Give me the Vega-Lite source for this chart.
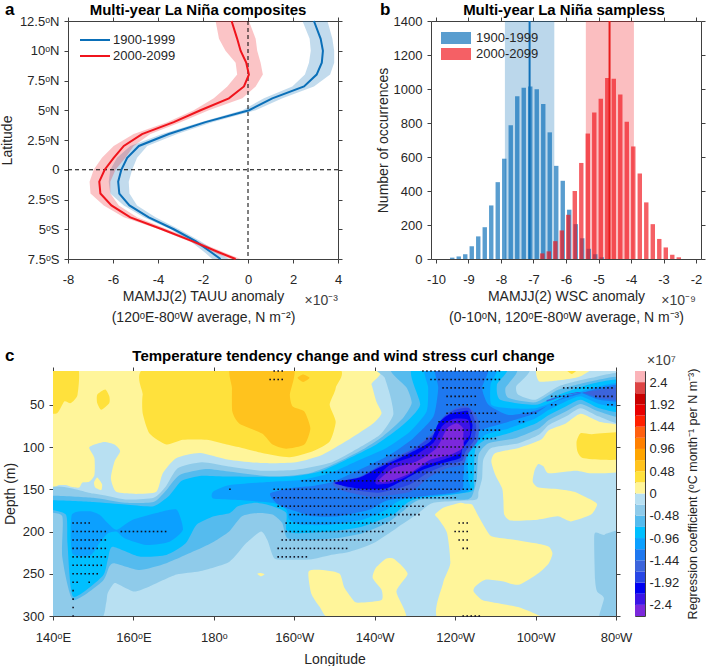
{"$schema":"https://vega.github.io/schema/vega-lite/v6.json","padding":{"left":0,"top":1,"right":0,"bottom":0},"spacing":23,
"config":{"font":"Liberation Sans","view":{"stroke":null},"axis":{"domainColor":"#404040","tickColor":"#404040","tickSize":4,"labelColor":"#262626","titleColor":"#262626","labelFont":"Liberation Sans","titleFont":"Liberation Sans","labelFontSize":13,"titleFontSize":14,"grid":false,"zindex":1,"titleFontWeight":"normal","labelFlush":false,"labelOverlap":false,"titleLineHeight":21},"title":{"font":"Liberation Sans","fontSize":15,"fontWeight":"bold","color":"#000000"},"legend":{"labelFont":"Liberation Sans","labelFontSize":13,"labelColor":"#262626"}},
"datasets":{"lines":[
{"s":"1900-1999","lat":12.5,"m":2.93,"lo":2.42,"hi":3.53},{"s":"1900-1999","lat":11,"m":3.23,"lo":2.74,"hi":3.75},{"s":"1900-1999","lat":10,"m":3.33,"lo":2.79,"hi":3.83},{"s":"1900-1999","lat":9,"m":3.28,"lo":2.71,"hi":3.83},{"s":"1900-1999","lat":8,"m":3.05,"lo":2.53,"hi":3.65},{"s":"1900-1999","lat":7,"m":2.49,"lo":1.97,"hi":2.93},{"s":"1900-1999","lat":6,"m":1.08,"lo":0.71,"hi":1.53},{"s":"1900-1999","lat":5,"m":0.05,"lo":-0.25,"hi":0.34},{"s":"1900-1999","lat":4,"m":-1.89,"lo":-2.11,"hi":-1.59},{"s":"1900-1999","lat":3,"m":-3.52,"lo":-3.82,"hi":-3.15},{"s":"1900-1999","lat":2,"m":-4.85,"lo":-5.23,"hi":-4.48},{"s":"1900-1999","lat":1,"m":-5.37,"lo":-5.82,"hi":-4.93},{"s":"1900-1999","lat":0,"m":-5.63,"lo":-6.12,"hi":-5.15},{"s":"1900-1999","lat":-1,"m":-5.77,"lo":-6.19,"hi":-5.3},{"s":"1900-1999","lat":-2,"m":-5.72,"lo":-6.12,"hi":-5.27},{"s":"1900-1999","lat":-3,"m":-5.27,"lo":-5.52,"hi":-4.93},{"s":"1900-1999","lat":-4,"m":-4.41,"lo":-4.63,"hi":-4.11},{"s":"1900-1999","lat":-5,"m":-3.3,"lo":-3.45,"hi":-3.07},{"s":"1900-1999","lat":-6,"m":-2.33,"lo":-2.55,"hi":-2.11},{"s":"1900-1999","lat":-7,"m":-1.59,"lo":-1.89,"hi":-1.29},{"s":"1900-1999","lat":-7.5,"m":-1.22,"lo":-1.59,"hi":-0.85},
{"s":"2000-2099","lat":12.5,"m":-0.73,"lo":-1.44,"hi":0.04},{"s":"2000-2099","lat":11,"m":-0.48,"lo":-1.29,"hi":0.34},{"s":"2000-2099","lat":10,"m":-0.33,"lo":-1,"hi":0.41},{"s":"2000-2099","lat":9,"m":-0.08,"lo":-0.55,"hi":0.56},{"s":"2000-2099","lat":8,"m":0.04,"lo":-0.48,"hi":0.66},{"s":"2000-2099","lat":7,"m":-0.18,"lo":-0.92,"hi":0.34},{"s":"2000-2099","lat":6,"m":-0.85,"lo":-1.52,"hi":-0.25},{"s":"2000-2099","lat":5,"m":-2.11,"lo":-2.41,"hi":-1.74},{"s":"2000-2099","lat":4,"m":-3.3,"lo":-3.59,"hi":-3},{"s":"2000-2099","lat":3,"m":-4.71,"lo":-5.08,"hi":-4.34},{"s":"2000-2099","lat":2,"m":-5.52,"lo":-5.97,"hi":-5.08},{"s":"2000-2099","lat":1,"m":-5.97,"lo":-6.49,"hi":-5.45},{"s":"2000-2099","lat":0,"m":-6.37,"lo":-6.86,"hi":-5.89},{"s":"2000-2099","lat":-1,"m":-6.61,"lo":-7.04,"hi":-6.12},{"s":"2000-2099","lat":-2,"m":-6.56,"lo":-7,"hi":-6.12},{"s":"2000-2099","lat":-3,"m":-6.07,"lo":-6.41,"hi":-5.74},{"s":"2000-2099","lat":-4,"m":-5.23,"lo":-5.52,"hi":-4.93},{"s":"2000-2099","lat":-5,"m":-3.82,"lo":-3.96,"hi":-3.59},{"s":"2000-2099","lat":-6,"m":-2.48,"lo":-2.63,"hi":-2.26},{"s":"2000-2099","lat":-7,"m":-1.22,"lo":-1.44,"hi":-1},{"s":"2000-2099","lat":-7.5,"m":-0.55,"lo":-0.77,"hi":-0.33}],
"bars":[{"s":"1900-1999","x":-9.5,"n":8},{"s":"1900-1999","x":-9.3,"n":15},{"s":"1900-1999","x":-9.1,"n":28},{"s":"1900-1999","x":-8.9,"n":75},{"s":"1900-1999","x":-8.7,"n":133},{"s":"1900-1999","x":-8.5,"n":187},{"s":"1900-1999","x":-8.3,"n":315},{"s":"1900-1999","x":-8.1,"n":452},{"s":"1900-1999","x":-7.9,"n":590},{"s":"1900-1999","x":-7.7,"n":787},{"s":"1900-1999","x":-7.5,"n":958},{"s":"1900-1999","x":-7.3,"n":1008},{"s":"1900-1999","x":-7.1,"n":1015},{"s":"1900-1999","x":-6.9,"n":998},{"s":"1900-1999","x":-6.7,"n":912},{"s":"1900-1999","x":-6.5,"n":745},{"s":"1900-1999","x":-6.3,"n":548},{"s":"1900-1999","x":-6.1,"n":460},{"s":"1900-1999","x":-5.9,"n":290},{"s":"1900-1999","x":-5.7,"n":205},{"s":"1900-1999","x":-5.5,"n":122},{"s":"1900-1999","x":-5.3,"n":60},{"s":"1900-1999","x":-5.1,"n":28},{"s":"1900-1999","x":-4.9,"n":10},
{"s":"2000-2099","x":-6.73,"n":33},{"s":"2000-2099","x":-6.53,"n":45},{"s":"2000-2099","x":-6.33,"n":105},{"s":"2000-2099","x":-6.13,"n":168},{"s":"2000-2099","x":-5.93,"n":260},{"s":"2000-2099","x":-5.73,"n":400},{"s":"2000-2099","x":-5.53,"n":565},{"s":"2000-2099","x":-5.33,"n":738},{"s":"2000-2099","x":-5.13,"n":862},{"s":"2000-2099","x":-4.93,"n":942},{"s":"2000-2099","x":-4.73,"n":1065},{"s":"2000-2099","x":-4.53,"n":1060},{"s":"2000-2099","x":-4.33,"n":967},{"s":"2000-2099","x":-4.13,"n":808},{"s":"2000-2099","x":-3.93,"n":662},{"s":"2000-2099","x":-3.73,"n":503},{"s":"2000-2099","x":-3.53,"n":333},{"s":"2000-2099","x":-3.33,"n":205},{"s":"2000-2099","x":-3.13,"n":118},{"s":"2000-2099","x":-2.93,"n":68},{"s":"2000-2099","x":-2.73,"n":25},{"s":"2000-2099","x":-2.53,"n":10}],
"means":[{"s":"1900-1999","m":-7.12,"lo":-7.88,"hi":-6.36},{"s":"2000-2099","m":-4.66,"lo":-5.39,"hi":-3.91}],
"levels":[{"p":1,"v":0.12},{"p":2,"v":0.12},{"p":3,"v":0.12},{"p":4,"v":0.12},{"p":5,"v":0.12},{"p":6,"v":0.12},{"p":7,"v":0.12},{"p":8,"v":0.36},{"p":9,"v":0.36},{"p":10,"v":0.36},{"p":11,"v":0.36},{"p":12,"v":0.36},{"p":13,"v":0.6},{"p":14,"v":0.6},{"p":15,"v":-0.36},{"p":16,"v":-0.36},{"p":17,"v":-0.6},{"p":18,"v":-0.84},{"p":19,"v":-1.08},{"p":20,"v":-1.08},{"p":21,"v":-1.32},{"p":22,"v":-1.56},{"p":23,"v":-1.56},{"p":24,"v":-1.8},{"p":25,"v":-2.04},{"p":26,"v":-2.28},{"p":27,"v":-2.52}],
"polys":[
{"p":1,"x":138,"y":5},{"p":1,"x":217.5,"y":5},{"p":1,"x":219.2,"y":26},{"p":1,"x":220.4,"y":46},{"p":1,"x":221.7,"y":60},{"p":1,"x":219.6,"y":72},{"p":1,"x":212.9,"y":93},{"p":1,"x":207,"y":109},{"p":1,"x":200.4,"y":118},{"p":1,"x":192,"y":119},{"p":1,"x":183.7,"y":115},{"p":1,"x":176.5,"y":107},{"p":1,"x":170.7,"y":113},{"p":1,"x":167.3,"y":131},{"p":1,"x":165.7,"y":153},{"p":1,"x":160.7,"y":155.5},{"p":1,"x":155.7,"y":153},{"p":1,"x":154.4,"y":137},{"p":1,"x":155.3,"y":117},{"p":1,"x":156.7,"y":105},{"p":1,"x":155.3,"y":97},{"p":1,"x":152.8,"y":94},{"p":1,"x":150.3,"y":97},{"p":1,"x":149,"y":101},{"p":1,"x":150.3,"y":113},{"p":1,"x":150.3,"y":133},{"p":1,"x":149,"y":141},{"p":1,"x":147.3,"y":142},{"p":1,"x":146.5,"y":148},{"p":1,"x":144.4,"y":147},{"p":1,"x":143.2,"y":145},{"p":1,"x":141.5,"y":145},{"p":1,"x":138,"y":144},
{"p":2,"x":151,"y":136},{"p":2,"x":152.2,"y":144},{"p":2,"x":152,"y":151},{"p":2,"x":150.5,"y":148},{"p":2,"x":150.2,"y":142},
{"p":3,"x":260.8,"y":5},{"p":3,"x":274,"y":5},{"p":3,"x":271.7,"y":15},{"p":3,"x":269,"y":19},{"p":3,"x":265,"y":21.5},{"p":3,"x":260.8,"y":22},
{"p":4,"x":282,"y":77.7},{"p":4,"x":275.8,"y":70},{"p":4,"x":271.2,"y":60.7},{"p":4,"x":267.5,"y":72},{"p":4,"x":263.3,"y":80},{"p":4,"x":261.3,"y":91.5},{"p":4,"x":255.8,"y":101},{"p":4,"x":250,"y":107},{"p":4,"x":249,"y":117},{"p":4,"x":250,"y":133},{"p":4,"x":251.7,"y":149},{"p":4,"x":252,"y":163},{"p":4,"x":252.2,"y":180},{"p":4,"x":253.8,"y":187},{"p":4,"x":260.5,"y":186},{"p":4,"x":265.5,"y":182},{"p":4,"x":268.8,"y":188},{"p":4,"x":273.8,"y":180},{"p":4,"x":275.3,"y":168},{"p":4,"x":273.8,"y":162.5},{"p":4,"x":269.6,"y":153},{"p":4,"x":265.8,"y":150},{"p":4,"x":260.8,"y":148},{"p":4,"x":259.3,"y":141},{"p":4,"x":259.8,"y":127},{"p":4,"x":260.7,"y":120},{"p":4,"x":262,"y":123},{"p":4,"x":263.3,"y":131},{"p":4,"x":270,"y":128},{"p":4,"x":274,"y":131},{"p":4,"x":282,"y":127},
{"p":5,"x":235,"y":180},{"p":5,"x":237,"y":172},{"p":5,"x":241.3,"y":166},{"p":5,"x":242.5,"y":167},{"p":5,"x":244.2,"y":168},{"p":5,"x":245.8,"y":182},{"p":5,"x":247.5,"y":196},{"p":5,"x":249.2,"y":206},{"p":5,"x":255,"y":210},{"p":5,"x":260,"y":214},{"p":5,"x":263.3,"y":218},{"p":5,"x":264.2,"y":226},{"p":5,"x":263.3,"y":237.5},{"p":5,"x":260.8,"y":249},{"p":5,"x":255.8,"y":263},{"p":5,"x":251.7,"y":259},{"p":5,"x":247.5,"y":257},{"p":5,"x":245,"y":265},{"p":5,"x":244.6,"y":271},{"p":5,"x":246.7,"y":281},{"p":5,"x":250.8,"y":285},{"p":5,"x":256.7,"y":291},{"p":5,"x":261.7,"y":305},{"p":5,"x":236.2,"y":305},{"p":5,"x":237,"y":261},{"p":5,"x":238.8,"y":237.5},{"p":5,"x":238,"y":202},{"p":5,"x":236,"y":186},
{"p":6,"x":203.6,"y":247},{"p":6,"x":208,"y":246},{"p":6,"x":211.3,"y":250},{"p":6,"x":212.5,"y":267},{"p":6,"x":215,"y":283},{"p":6,"x":217,"y":284},{"p":6,"x":221.7,"y":281},{"p":6,"x":221.7,"y":269},{"p":6,"x":219.5,"y":255},{"p":6,"x":220.3,"y":243},{"p":6,"x":222.9,"y":232},{"p":6,"x":225,"y":233},{"p":6,"x":228.2,"y":250},{"p":6,"x":225.4,"y":271},{"p":6,"x":227.5,"y":305},{"p":6,"x":209.6,"y":305},{"p":6,"x":206.3,"y":289},{"p":6,"x":204.2,"y":273},
{"p":7,"x":190.8,"y":250},{"p":7,"x":191.7,"y":249},{"p":7,"x":192.6,"y":250.5},{"p":7,"x":191.7,"y":253},
{"p":8,"x":267,"y":5},{"p":8,"x":271,"y":5},{"p":8,"x":269,"y":13.5},
{"p":9,"x":282,"y":83.6},{"p":9,"x":274,"y":84.8},{"p":9,"x":271.2,"y":83.6},{"p":9,"x":270.2,"y":93.5},{"p":9,"x":270.4,"y":105},{"p":9,"x":271.7,"y":113},{"p":9,"x":276.7,"y":115},{"p":9,"x":282,"y":113},
{"p":10,"x":138,"y":5},{"p":10,"x":146.1,"y":5},{"p":10,"x":146.1,"y":38},{"p":10,"x":144.4,"y":48},{"p":10,"x":142.8,"y":46},{"p":10,"x":141,"y":60},{"p":10,"x":138,"y":56},
{"p":11,"x":153,"y":32},{"p":11,"x":154,"y":40},{"p":11,"x":154,"y":48},{"p":11,"x":152,"y":56},{"p":11,"x":151,"y":48},{"p":11,"x":151,"y":38},
{"p":12,"x":164,"y":5},{"p":12,"x":162.3,"y":38},{"p":12,"x":162.3,"y":60},{"p":12,"x":164,"y":84},{"p":12,"x":168.2,"y":97},{"p":12,"x":172.3,"y":91.5},{"p":12,"x":178.2,"y":91.5},{"p":12,"x":183.2,"y":97},{"p":12,"x":187,"y":101},{"p":12,"x":192,"y":107},{"p":12,"x":198.8,"y":112},{"p":12,"x":204.6,"y":105},{"p":12,"x":208.8,"y":93.5},{"p":12,"x":210.3,"y":70},{"p":12,"x":208.8,"y":50},{"p":12,"x":210.3,"y":30},{"p":12,"x":209.6,"y":5},
{"p":13,"x":184.5,"y":5},{"p":13,"x":184.5,"y":30},{"p":13,"x":184.6,"y":58},{"p":13,"x":186.3,"y":72},{"p":13,"x":192,"y":84},{"p":13,"x":194.6,"y":97},{"p":13,"x":198,"y":102},{"p":13,"x":202.5,"y":97},{"p":13,"x":204,"y":78},{"p":13,"x":202.5,"y":58},{"p":13,"x":199.6,"y":52},{"p":13,"x":198.9,"y":38},{"p":13,"x":199.6,"y":5},
{"p":14,"x":202.2,"y":14},{"p":14,"x":203.8,"y":18},{"p":14,"x":202.2,"y":23},{"p":14,"x":200.8,"y":18},
{"p":15,"x":138,"y":153},{"p":15,"x":150,"y":155},{"p":15,"x":158,"y":162},{"p":15,"x":165,"y":160},{"p":15,"x":168,"y":147},{"p":15,"x":171,"y":125},{"p":15,"x":177,"y":118},{"p":15,"x":183.7,"y":123},{"p":15,"x":192,"y":128},{"p":15,"x":200.4,"y":127},{"p":15,"x":208.8,"y":119},{"p":15,"x":214.6,"y":105},{"p":15,"x":221.3,"y":85.6},{"p":15,"x":224.6,"y":62},{"p":15,"x":223.8,"y":38},{"p":15,"x":222.5,"y":18},{"p":15,"x":221.7,"y":5},{"p":15,"x":257.5,"y":5},{"p":15,"x":255.2,"y":28},{"p":15,"x":255.7,"y":38},{"p":15,"x":260,"y":44},{"p":15,"x":265.8,"y":28},{"p":15,"x":274,"y":18},{"p":15,"x":282,"y":14},{"p":15,"x":282,"y":71.7},{"p":15,"x":275.8,"y":64},{"p":15,"x":271.2,"y":54},{"p":15,"x":267.5,"y":64},{"p":15,"x":263.3,"y":74},{"p":15,"x":260.8,"y":85.6},{"p":15,"x":255.8,"y":95.5},{"p":15,"x":249,"y":101},{"p":15,"x":247,"y":115},{"p":15,"x":246.7,"y":137},{"p":15,"x":245.8,"y":153},{"p":15,"x":245,"y":162.5},{"p":15,"x":234.6,"y":166},{"p":15,"x":230.4,"y":180},{"p":15,"x":225.4,"y":196},{"p":15,"x":219.6,"y":214},{"p":15,"x":213.8,"y":224},{"p":15,"x":208.8,"y":228},{"p":15,"x":203.8,"y":233},{"p":15,"x":195.8,"y":233},{"p":15,"x":194.6,"y":228},{"p":15,"x":193.3,"y":210},{"p":15,"x":191.7,"y":200},{"p":15,"x":188,"y":214},{"p":15,"x":183.8,"y":236},{"p":15,"x":176.5,"y":247},{"p":15,"x":170.7,"y":251},{"p":15,"x":164,"y":265},{"p":15,"x":160.3,"y":271},{"p":15,"x":157.3,"y":265},{"p":15,"x":155.3,"y":261},{"p":15,"x":153.6,"y":273},{"p":15,"x":153.2,"y":285},{"p":15,"x":151.5,"y":305},{"p":15,"x":138,"y":305},
{"p":16,"x":274.6,"y":204},{"p":16,"x":276,"y":202.5},{"p":16,"x":277,"y":204},{"p":16,"x":278,"y":202},{"p":16,"x":282,"y":204},{"p":16,"x":282,"y":305},{"p":16,"x":275.8,"y":305},{"p":16,"x":277,"y":279},{"p":16,"x":275.3,"y":271},{"p":16,"x":274.8,"y":257},
{"p":17,"x":138,"y":158},{"p":17,"x":150,"y":160},{"p":17,"x":158,"y":166},{"p":17,"x":165,"y":165},{"p":17,"x":168,"y":152},{"p":17,"x":171.5,"y":133},{"p":17,"x":178,"y":126},{"p":17,"x":183.7,"y":129},{"p":17,"x":194.6,"y":135},{"p":17,"x":203.8,"y":131},{"p":17,"x":210.4,"y":119},{"p":17,"x":217,"y":103},{"p":17,"x":222,"y":87.5},{"p":17,"x":227,"y":66},{"p":17,"x":229.2,"y":48},{"p":17,"x":228,"y":30},{"p":17,"x":224.6,"y":5},{"p":17,"x":254.6,"y":5},{"p":17,"x":252.5,"y":30},{"p":17,"x":253.3,"y":42},{"p":17,"x":260,"y":47},{"p":17,"x":265.8,"y":32},{"p":17,"x":274,"y":22},{"p":17,"x":282,"y":18},{"p":17,"x":282,"y":64},{"p":17,"x":275.8,"y":58},{"p":17,"x":271.2,"y":49},{"p":17,"x":267.5,"y":58},{"p":17,"x":263.3,"y":68},{"p":17,"x":260.8,"y":78},{"p":17,"x":255,"y":89.5},{"p":17,"x":248.3,"y":95.5},{"p":17,"x":245.8,"y":109},{"p":17,"x":245.4,"y":137},{"p":17,"x":244.6,"y":153},{"p":17,"x":243,"y":162},{"p":17,"x":231.3,"y":162.5},{"p":17,"x":227,"y":176},{"p":17,"x":223,"y":190},{"p":17,"x":217,"y":202},{"p":17,"x":210.4,"y":208},{"p":17,"x":203.8,"y":210},{"p":17,"x":198.3,"y":208},{"p":17,"x":197,"y":190},{"p":17,"x":194.6,"y":180},{"p":17,"x":191,"y":178},{"p":17,"x":187,"y":182},{"p":17,"x":183.8,"y":200},{"p":17,"x":180,"y":212},{"p":17,"x":175.7,"y":222},{"p":17,"x":168.2,"y":237.5},{"p":17,"x":161.5,"y":245.5},{"p":17,"x":155.3,"y":237.5},{"p":17,"x":154,"y":241.5},{"p":17,"x":152.3,"y":259},{"p":17,"x":145,"y":281},{"p":17,"x":142.3,"y":230},{"p":17,"x":142.3,"y":182},{"p":17,"x":138,"y":176},
{"p":18,"x":138,"y":163},{"p":18,"x":150,"y":165},{"p":18,"x":158,"y":168},{"p":18,"x":165,"y":170},{"p":18,"x":169,"y":157},{"p":18,"x":172,"y":140},{"p":18,"x":177,"y":134},{"p":18,"x":183.7,"y":135},{"p":18,"x":198.8,"y":135},{"p":18,"x":206.3,"y":129},{"p":18,"x":212.9,"y":115},{"p":18,"x":220.4,"y":97},{"p":18,"x":227,"y":74},{"p":18,"x":231.3,"y":50},{"p":18,"x":229.6,"y":5},{"p":18,"x":252.5,"y":5},{"p":18,"x":250.4,"y":26},{"p":18,"x":251.2,"y":44},{"p":18,"x":260,"y":50},{"p":18,"x":265.8,"y":38},{"p":18,"x":274,"y":25},{"p":18,"x":282,"y":21},{"p":18,"x":282,"y":58},{"p":18,"x":275.8,"y":54},{"p":18,"x":271.2,"y":44},{"p":18,"x":267.5,"y":52},{"p":18,"x":263.3,"y":62},{"p":18,"x":260,"y":72},{"p":18,"x":253.3,"y":83.6},{"p":18,"x":247.5,"y":91.5},{"p":18,"x":245,"y":103},{"p":18,"x":244.6,"y":137},{"p":18,"x":243.8,"y":153},{"p":18,"x":229.6,"y":162.5},{"p":18,"x":224.6,"y":180},{"p":18,"x":217,"y":194},{"p":18,"x":208.8,"y":200},{"p":18,"x":200.4,"y":202},{"p":18,"x":198,"y":198},{"p":18,"x":198,"y":178},{"p":18,"x":194.6,"y":170},{"p":18,"x":190.4,"y":166},{"p":18,"x":186,"y":170},{"p":18,"x":184,"y":178},{"p":18,"x":180,"y":182},{"p":18,"x":175.7,"y":192},{"p":18,"x":173,"y":214},{"p":18,"x":168.2,"y":227.7},{"p":18,"x":161.5,"y":229.6},{"p":18,"x":154.8,"y":218},{"p":18,"x":153.6,"y":233.6},{"p":18,"x":152.3,"y":253},{"p":18,"x":145,"y":277},{"p":18,"x":143.6,"y":214},{"p":18,"x":143.2,"y":180},{"p":18,"x":138,"y":172},
{"p":19,"x":144.7,"y":180},{"p":19,"x":144.8,"y":226},{"p":19,"x":149.4,"y":228},{"p":19,"x":151.5,"y":214},{"p":19,"x":153.6,"y":202},{"p":19,"x":155.8,"y":200},{"p":19,"x":157.8,"y":208},{"p":19,"x":163.2,"y":216},{"p":19,"x":169,"y":212},{"p":19,"x":172.3,"y":198},{"p":19,"x":170.7,"y":174},{"p":19,"x":165.7,"y":178},{"p":19,"x":159.8,"y":186},{"p":19,"x":155.8,"y":198},{"p":19,"x":153.6,"y":190},{"p":19,"x":151.5,"y":180},{"p":19,"x":149,"y":176},
{"p":20,"x":179.8,"y":153},{"p":20,"x":184,"y":145},{"p":20,"x":194.6,"y":141},{"p":20,"x":201.7,"y":139},{"p":20,"x":208.8,"y":131},{"p":20,"x":216.3,"y":115},{"p":20,"x":222.9,"y":101},{"p":20,"x":228.8,"y":81.6},{"p":20,"x":232.9,"y":58},{"p":20,"x":233.3,"y":30},{"p":20,"x":233,"y":5},{"p":20,"x":250,"y":5},{"p":20,"x":248.8,"y":26},{"p":20,"x":249,"y":50},{"p":20,"x":253.3,"y":54},{"p":20,"x":260,"y":54},{"p":20,"x":265.8,"y":44},{"p":20,"x":274,"y":30},{"p":20,"x":282,"y":24},{"p":20,"x":282,"y":52},{"p":20,"x":275.8,"y":49},{"p":20,"x":271.2,"y":40},{"p":20,"x":267.5,"y":46},{"p":20,"x":263.3,"y":56},{"p":20,"x":260,"y":66},{"p":20,"x":253.3,"y":78},{"p":20,"x":247.5,"y":85.6},{"p":20,"x":243.3,"y":109},{"p":20,"x":243.3,"y":137},{"p":20,"x":242.9,"y":153},{"p":20,"x":227,"y":162.5},{"p":20,"x":223,"y":174},{"p":20,"x":217,"y":186},{"p":20,"x":208.8,"y":192},{"p":20,"x":202,"y":192},{"p":20,"x":198.8,"y":186},{"p":20,"x":198,"y":174},{"p":20,"x":194.6,"y":166},{"p":20,"x":185,"y":162.5},{"p":20,"x":179.8,"y":161},
{"p":21,"x":194,"y":155},{"p":21,"x":200,"y":148},{"p":21,"x":204.6,"y":146},{"p":21,"x":209.6,"y":141},{"p":21,"x":217,"y":125},{"p":21,"x":223.8,"y":109},{"p":21,"x":229.6,"y":89.5},{"p":21,"x":234.6,"y":64},{"p":21,"x":235.8,"y":30},{"p":21,"x":235.4,"y":5},{"p":21,"x":248,"y":5},{"p":21,"x":246.7,"y":30},{"p":21,"x":248.3,"y":50},{"p":21,"x":253.3,"y":62},{"p":21,"x":260,"y":57},{"p":21,"x":265,"y":46},{"p":21,"x":269,"y":40},{"p":21,"x":275.8,"y":30},{"p":21,"x":282,"y":26},{"p":21,"x":282,"y":46},{"p":21,"x":275.8,"y":44},{"p":21,"x":271.2,"y":36},{"p":21,"x":267.5,"y":40},{"p":21,"x":263.3,"y":50},{"p":21,"x":260,"y":60},{"p":21,"x":253.3,"y":70},{"p":21,"x":247.5,"y":78},{"p":21,"x":244.2,"y":85.6},{"p":21,"x":242.5,"y":109},{"p":21,"x":242,"y":137},{"p":21,"x":240.8,"y":153},{"p":21,"x":223.8,"y":162.5},{"p":21,"x":218.8,"y":174},{"p":21,"x":211,"y":182},{"p":21,"x":204.6,"y":182},{"p":21,"x":200.4,"y":176},{"p":21,"x":196,"y":168},
{"p":22,"x":210,"y":141},{"p":22,"x":216.3,"y":135},{"p":22,"x":222.9,"y":117},{"p":22,"x":230.4,"y":99.4},{"p":22,"x":235.4,"y":77.7},{"p":22,"x":237.9,"y":60},{"p":22,"x":241.3,"y":52},{"p":22,"x":243,"y":52},{"p":22,"x":245,"y":60},{"p":22,"x":246,"y":74},{"p":22,"x":245.5,"y":93.5},{"p":22,"x":243,"y":109},{"p":22,"x":242,"y":121},{"p":22,"x":238,"y":125},{"p":22,"x":233.8,"y":135},{"p":22,"x":228.8,"y":153},{"p":22,"x":219.6,"y":159},{"p":22,"x":212.9,"y":153},{"p":22,"x":210,"y":147},
{"p":23,"x":263,"y":46},{"p":23,"x":268,"y":38},{"p":23,"x":275,"y":33},{"p":23,"x":282,"y":29},{"p":23,"x":282,"y":44},{"p":23,"x":276,"y":42},{"p":23,"x":271,"y":35},{"p":23,"x":267.5,"y":38},{"p":23,"x":263,"y":44},
{"p":24,"x":211,"y":141.5},{"p":24,"x":216.3,"y":135.5},{"p":24,"x":221.5,"y":122},{"p":24,"x":229.5,"y":103},{"p":24,"x":234.6,"y":85},{"p":24,"x":236.8,"y":66},{"p":24,"x":240,"y":56},{"p":24,"x":243.5,"y":54},{"p":24,"x":245.2,"y":74},{"p":24,"x":244.7,"y":92},{"p":24,"x":242.5,"y":106},{"p":24,"x":241.8,"y":116},{"p":24,"x":237.5,"y":122},{"p":24,"x":233,"y":131},{"p":24,"x":228.4,"y":145},{"p":24,"x":221,"y":154},{"p":24,"x":214,"y":150},
{"p":25,"x":210,"y":142},{"p":25,"x":216.3,"y":136},{"p":25,"x":220.4,"y":126},{"p":25,"x":228.8,"y":107},{"p":25,"x":233.8,"y":93.5},{"p":25,"x":235.8,"y":72},{"p":25,"x":238.8,"y":60.7},{"p":25,"x":243,"y":57},{"p":25,"x":243.3,"y":60},{"p":25,"x":244.3,"y":73.7},{"p":25,"x":243.7,"y":89.5},{"p":25,"x":241.7,"y":103},{"p":25,"x":241.3,"y":113},{"p":25,"x":237,"y":119},{"p":25,"x":232,"y":127},{"p":25,"x":228,"y":137},{"p":25,"x":222.9,"y":149},{"p":25,"x":217,"y":149.6},{"p":25,"x":212,"y":145.7},
{"p":26,"x":220.4,"y":137},{"p":26,"x":223.8,"y":121},{"p":26,"x":229.6,"y":111},{"p":26,"x":234.6,"y":95},{"p":26,"x":236.7,"y":75.7},{"p":26,"x":239.6,"y":66.6},{"p":26,"x":243.3,"y":68},{"p":26,"x":243.7,"y":85.6},{"p":26,"x":241.7,"y":97},{"p":26,"x":241.3,"y":107},{"p":26,"x":237,"y":115},{"p":26,"x":232,"y":123},{"p":26,"x":228,"y":135},{"p":26,"x":224,"y":143},{"p":26,"x":220.4,"y":144},
{"p":27,"x":221,"y":139},{"p":27,"x":224.6,"y":125},{"p":27,"x":230.4,"y":117},{"p":27,"x":235.4,"y":101},{"p":27,"x":238,"y":77.7},{"p":27,"x":240.4,"y":71.7},{"p":27,"x":242,"y":77.7},{"p":27,"x":242,"y":89.5},{"p":27,"x":242,"y":101},{"p":27,"x":238.8,"y":109},{"p":27,"x":233.8,"y":115},{"p":27,"x":228.8,"y":131},{"p":27,"x":224.6,"y":139},{"p":27,"x":222,"y":142}],
"dots":[
{"x":195,"y":10},{"x":196,"y":10},{"x":197,"y":10},{"x":232,"y":10},{"x":233,"y":10},{"x":234,"y":10},{"x":235,"y":10},{"x":236,"y":10},{"x":237,"y":10},{"x":238,"y":10},{"x":239,"y":10},{"x":240,"y":10},{"x":241,"y":10},{"x":242,"y":10},{"x":243,"y":10},{"x":244,"y":10},{"x":245,"y":10},{"x":246,"y":10},{"x":247,"y":10},{"x":248,"y":10},{"x":249,"y":10},{"x":250,"y":10},{"x":251,"y":10},
{"x":194,"y":20},{"x":195,"y":20},{"x":196,"y":20},{"x":197,"y":20},{"x":234,"y":20},{"x":235,"y":20},{"x":236,"y":20},{"x":237,"y":20},{"x":238,"y":20},{"x":239,"y":20},{"x":240,"y":20},{"x":241,"y":20},{"x":242,"y":20},{"x":243,"y":20},{"x":244,"y":20},{"x":245,"y":20},{"x":246,"y":20},{"x":247,"y":20},{"x":248,"y":20},{"x":249,"y":20},{"x":250,"y":20},{"x":251,"y":20},
{"x":237,"y":30},{"x":238,"y":30},{"x":239,"y":30},{"x":240,"y":30},{"x":241,"y":30},{"x":242,"y":30},{"x":243,"y":30},{"x":244,"y":30},{"x":245,"y":30},{"x":246,"y":30},{"x":247,"y":30},{"x":267,"y":30},{"x":268,"y":30},{"x":269,"y":30},{"x":270,"y":30},{"x":271,"y":30},{"x":272,"y":30},{"x":273,"y":30},{"x":274,"y":30},{"x":275,"y":30},{"x":276,"y":30},{"x":277,"y":30},{"x":278,"y":30},{"x":279,"y":30},
{"x":238,"y":40},{"x":239,"y":40},{"x":240,"y":40},{"x":241,"y":40},{"x":242,"y":40},{"x":243,"y":40},{"x":244,"y":40},{"x":245,"y":40},{"x":264,"y":40},{"x":265,"y":40},{"x":266,"y":40},{"x":267,"y":40},{"x":268,"y":40},{"x":275,"y":40},{"x":276,"y":40},{"x":277,"y":40},{"x":278,"y":40},{"x":279,"y":40},
{"x":238,"y":50},{"x":239,"y":50},{"x":240,"y":50},{"x":241,"y":50},{"x":242,"y":50},{"x":243,"y":50},{"x":244,"y":50},{"x":245,"y":50},{"x":264,"y":50},{"x":265,"y":50},{"x":278,"y":50},{"x":279,"y":50},
{"x":238,"y":60},{"x":239,"y":60},{"x":240,"y":60},{"x":241,"y":60},{"x":242,"y":60},{"x":243,"y":60},{"x":244,"y":60},{"x":245,"y":60},{"x":246,"y":60},{"x":247,"y":60},{"x":248,"y":60},{"x":249,"y":60},{"x":250,"y":60},{"x":257,"y":60},{"x":258,"y":60},{"x":259,"y":60},{"x":260,"y":60},
{"x":236,"y":70},{"x":237,"y":70},{"x":238,"y":70},{"x":239,"y":70},{"x":240,"y":70},{"x":241,"y":70},{"x":242,"y":70},{"x":243,"y":70},{"x":244,"y":70},{"x":245,"y":70},{"x":246,"y":70},{"x":247,"y":70},{"x":248,"y":70},{"x":249,"y":70},{"x":250,"y":70},{"x":251,"y":70},{"x":256,"y":70},{"x":257,"y":70},
{"x":234,"y":80},{"x":235,"y":80},{"x":236,"y":80},{"x":237,"y":80},{"x":238,"y":80},{"x":239,"y":80},{"x":240,"y":80},{"x":241,"y":80},{"x":242,"y":80},{"x":243,"y":80},{"x":244,"y":80},{"x":245,"y":80},{"x":246,"y":80},{"x":247,"y":80},{"x":248,"y":80},{"x":249,"y":80},{"x":250,"y":80},{"x":251,"y":80},
{"x":233,"y":90},{"x":234,"y":90},{"x":235,"y":90},{"x":236,"y":90},{"x":237,"y":90},{"x":238,"y":90},{"x":239,"y":90},{"x":240,"y":90},{"x":241,"y":90},{"x":242,"y":90},{"x":243,"y":90},{"x":244,"y":90},{"x":245,"y":90},{"x":246,"y":90},{"x":247,"y":90},{"x":248,"y":90},{"x":249,"y":90},{"x":250,"y":90},
{"x":229,"y":100},{"x":230,"y":100},{"x":231,"y":100},{"x":232,"y":100},{"x":233,"y":100},{"x":234,"y":100},{"x":235,"y":100},{"x":236,"y":100},{"x":237,"y":100},{"x":238,"y":100},{"x":239,"y":100},{"x":240,"y":100},{"x":241,"y":100},{"x":242,"y":100},{"x":243,"y":100},{"x":244,"y":100},{"x":245,"y":100},{"x":246,"y":100},
{"x":223,"y":110},{"x":224,"y":110},{"x":225,"y":110},{"x":226,"y":110},{"x":227,"y":110},{"x":228,"y":110},{"x":229,"y":110},{"x":230,"y":110},{"x":231,"y":110},{"x":232,"y":110},{"x":233,"y":110},{"x":234,"y":110},{"x":235,"y":110},{"x":236,"y":110},{"x":237,"y":110},{"x":238,"y":110},{"x":239,"y":110},{"x":240,"y":110},{"x":241,"y":110},{"x":242,"y":110},{"x":243,"y":110},{"x":244,"y":110},{"x":245,"y":110},
{"x":219,"y":120},{"x":220,"y":120},{"x":221,"y":120},{"x":222,"y":120},{"x":223,"y":120},{"x":224,"y":120},{"x":225,"y":120},{"x":226,"y":120},{"x":227,"y":120},{"x":228,"y":120},{"x":229,"y":120},{"x":230,"y":120},{"x":231,"y":120},{"x":232,"y":120},{"x":233,"y":120},{"x":234,"y":120},{"x":235,"y":120},{"x":236,"y":120},{"x":237,"y":120},{"x":238,"y":120},{"x":239,"y":120},{"x":240,"y":120},{"x":241,"y":120},{"x":242,"y":120},{"x":243,"y":120},{"x":244,"y":120},{"x":245,"y":120},
{"x":207,"y":130},{"x":208,"y":130},{"x":209,"y":130},{"x":210,"y":130},{"x":211,"y":130},{"x":212,"y":130},{"x":213,"y":130},{"x":214,"y":130},{"x":215,"y":130},{"x":216,"y":130},{"x":217,"y":130},{"x":218,"y":130},{"x":219,"y":130},{"x":220,"y":130},{"x":221,"y":130},{"x":222,"y":130},{"x":223,"y":130},{"x":224,"y":130},{"x":225,"y":130},{"x":226,"y":130},{"x":227,"y":130},{"x":228,"y":130},{"x":229,"y":130},{"x":230,"y":130},{"x":231,"y":130},{"x":232,"y":130},{"x":233,"y":130},{"x":234,"y":130},{"x":235,"y":130},{"x":236,"y":130},{"x":237,"y":130},{"x":238,"y":130},{"x":239,"y":130},{"x":240,"y":130},{"x":241,"y":130},{"x":242,"y":130},{"x":243,"y":130},{"x":244,"y":130},{"x":245,"y":130},
{"x":202,"y":140},{"x":203,"y":140},{"x":204,"y":140},{"x":205,"y":140},{"x":206,"y":140},{"x":207,"y":140},{"x":208,"y":140},{"x":209,"y":140},{"x":210,"y":140},{"x":211,"y":140},{"x":212,"y":140},{"x":213,"y":140},{"x":214,"y":140},{"x":215,"y":140},{"x":216,"y":140},{"x":217,"y":140},{"x":218,"y":140},{"x":219,"y":140},{"x":220,"y":140},{"x":221,"y":140},{"x":222,"y":140},{"x":223,"y":140},{"x":224,"y":140},{"x":225,"y":140},{"x":226,"y":140},{"x":227,"y":140},{"x":228,"y":140},{"x":229,"y":140},{"x":230,"y":140},{"x":231,"y":140},{"x":232,"y":140},{"x":233,"y":140},{"x":234,"y":140},{"x":235,"y":140},{"x":236,"y":140},{"x":237,"y":140},{"x":238,"y":140},{"x":239,"y":140},{"x":240,"y":140},{"x":241,"y":140},{"x":242,"y":140},{"x":243,"y":140},{"x":244,"y":140},{"x":245,"y":140},
{"x":184,"y":150},{"x":195,"y":150},{"x":196,"y":150},{"x":197,"y":150},{"x":198,"y":150},{"x":199,"y":150},{"x":200,"y":150},{"x":201,"y":150},{"x":202,"y":150},{"x":203,"y":150},{"x":204,"y":150},{"x":205,"y":150},{"x":206,"y":150},{"x":207,"y":150},{"x":208,"y":150},{"x":209,"y":150},{"x":210,"y":150},{"x":211,"y":150},{"x":212,"y":150},{"x":213,"y":150},{"x":214,"y":150},{"x":215,"y":150},{"x":216,"y":150},{"x":217,"y":150},{"x":218,"y":150},{"x":219,"y":150},{"x":220,"y":150},{"x":221,"y":150},{"x":222,"y":150},{"x":223,"y":150},{"x":224,"y":150},{"x":225,"y":150},{"x":226,"y":150},{"x":227,"y":150},{"x":228,"y":150},{"x":229,"y":150},{"x":230,"y":150},{"x":231,"y":150},{"x":232,"y":150},{"x":233,"y":150},{"x":234,"y":150},{"x":235,"y":150},{"x":236,"y":150},{"x":237,"y":150},{"x":238,"y":150},{"x":239,"y":150},{"x":240,"y":150},{"x":241,"y":150},{"x":242,"y":150},{"x":243,"y":150},{"x":244,"y":150},
{"x":195,"y":160},{"x":196,"y":160},{"x":197,"y":160},{"x":198,"y":160},{"x":199,"y":160},{"x":200,"y":160},{"x":201,"y":160},{"x":202,"y":160},{"x":203,"y":160},{"x":204,"y":160},{"x":205,"y":160},{"x":206,"y":160},{"x":207,"y":160},{"x":208,"y":160},{"x":209,"y":160},{"x":210,"y":160},{"x":211,"y":160},{"x":212,"y":160},{"x":213,"y":160},{"x":214,"y":160},{"x":215,"y":160},{"x":216,"y":160},{"x":217,"y":160},{"x":218,"y":160},{"x":219,"y":160},{"x":220,"y":160},{"x":221,"y":160},{"x":222,"y":160},{"x":223,"y":160},{"x":224,"y":160},{"x":225,"y":160},{"x":226,"y":160},{"x":227,"y":160},{"x":228,"y":160},{"x":229,"y":160},{"x":230,"y":160},{"x":231,"y":160},{"x":232,"y":160},{"x":233,"y":160},{"x":234,"y":160},{"x":235,"y":160},{"x":236,"y":160},{"x":237,"y":160},{"x":238,"y":160},{"x":239,"y":160},{"x":240,"y":160},
{"x":196,"y":170},{"x":197,"y":170},{"x":198,"y":170},{"x":199,"y":170},{"x":200,"y":170},{"x":201,"y":170},{"x":202,"y":170},{"x":203,"y":170},{"x":204,"y":170},{"x":205,"y":170},{"x":206,"y":170},{"x":207,"y":170},{"x":208,"y":170},{"x":209,"y":170},{"x":210,"y":170},{"x":211,"y":170},{"x":212,"y":170},{"x":213,"y":170},{"x":214,"y":170},{"x":215,"y":170},{"x":216,"y":170},{"x":217,"y":170},{"x":218,"y":170},{"x":219,"y":170},{"x":220,"y":170},{"x":221,"y":170},{"x":222,"y":170},{"x":223,"y":170},{"x":224,"y":170},{"x":225,"y":170},{"x":226,"y":170},{"x":227,"y":170},{"x":228,"y":170},{"x":229,"y":170},{"x":230,"y":170},{"x":231,"y":170},{"x":232,"y":170},
{"x":199,"y":180},{"x":200,"y":180},{"x":201,"y":180},{"x":202,"y":180},{"x":203,"y":180},{"x":204,"y":180},{"x":205,"y":180},{"x":206,"y":180},{"x":207,"y":180},{"x":208,"y":180},{"x":209,"y":180},{"x":210,"y":180},{"x":211,"y":180},{"x":212,"y":180},{"x":213,"y":180},{"x":214,"y":180},{"x":215,"y":180},{"x":216,"y":180},{"x":217,"y":180},{"x":218,"y":180},{"x":219,"y":180},{"x":220,"y":180},{"x":221,"y":180},{"x":222,"y":180},{"x":223,"y":180},{"x":224,"y":180},{"x":225,"y":180},{"x":226,"y":180},{"x":227,"y":180},{"x":228,"y":180},{"x":229,"y":180},{"x":230,"y":180},{"x":231,"y":180},
{"x":145,"y":190},{"x":146,"y":190},{"x":147,"y":190},{"x":148,"y":190},{"x":149,"y":190},{"x":198,"y":190},{"x":199,"y":190},{"x":200,"y":190},{"x":201,"y":190},{"x":202,"y":190},{"x":203,"y":190},{"x":204,"y":190},{"x":205,"y":190},{"x":206,"y":190},{"x":207,"y":190},{"x":208,"y":190},{"x":209,"y":190},{"x":210,"y":190},{"x":211,"y":190},{"x":212,"y":190},{"x":213,"y":190},{"x":214,"y":190},{"x":215,"y":190},{"x":216,"y":190},{"x":217,"y":190},{"x":218,"y":190},{"x":219,"y":190},{"x":220,"y":190},{"x":221,"y":190},{"x":222,"y":190},{"x":223,"y":190},{"x":224,"y":190},{"x":225,"y":190},{"x":241,"y":190},{"x":242,"y":190},{"x":243,"y":190},
{"x":145,"y":200},{"x":146,"y":200},{"x":147,"y":200},{"x":148,"y":200},{"x":149,"y":200},{"x":150,"y":200},{"x":151,"y":200},{"x":152,"y":200},{"x":153,"y":200},{"x":157,"y":200},{"x":158,"y":200},{"x":159,"y":200},{"x":160,"y":200},{"x":161,"y":200},{"x":162,"y":200},{"x":163,"y":200},{"x":164,"y":200},{"x":165,"y":200},{"x":166,"y":200},{"x":167,"y":200},{"x":168,"y":200},{"x":197,"y":200},{"x":198,"y":200},{"x":199,"y":200},{"x":200,"y":200},{"x":201,"y":200},{"x":202,"y":200},{"x":203,"y":200},{"x":204,"y":200},{"x":205,"y":200},{"x":206,"y":200},{"x":207,"y":200},{"x":208,"y":200},{"x":209,"y":200},{"x":210,"y":200},{"x":211,"y":200},{"x":212,"y":200},{"x":213,"y":200},{"x":214,"y":200},{"x":215,"y":200},{"x":216,"y":200},{"x":217,"y":200},{"x":218,"y":200},{"x":219,"y":200},{"x":220,"y":200},{"x":221,"y":200},{"x":222,"y":200},{"x":240,"y":200},{"x":241,"y":200},{"x":242,"y":200},{"x":243,"y":200},
{"x":145,"y":210},{"x":146,"y":210},{"x":147,"y":210},{"x":148,"y":210},{"x":149,"y":210},{"x":150,"y":210},{"x":151,"y":210},{"x":152,"y":210},{"x":153,"y":210},{"x":197,"y":210},{"x":198,"y":210},{"x":199,"y":210},{"x":200,"y":210},{"x":201,"y":210},{"x":202,"y":210},{"x":203,"y":210},{"x":204,"y":210},{"x":205,"y":210},{"x":206,"y":210},{"x":207,"y":210},{"x":208,"y":210},{"x":209,"y":210},{"x":210,"y":210},{"x":211,"y":210},{"x":212,"y":210},{"x":213,"y":210},{"x":214,"y":210},{"x":215,"y":210},{"x":216,"y":210},{"x":217,"y":210},{"x":218,"y":210},{"x":219,"y":210},{"x":241,"y":210},{"x":242,"y":210},{"x":243,"y":210},
{"x":145,"y":220},{"x":146,"y":220},{"x":147,"y":220},{"x":148,"y":220},{"x":149,"y":220},{"x":150,"y":220},{"x":151,"y":220},{"x":152,"y":220},{"x":153,"y":220},{"x":196,"y":220},{"x":197,"y":220},{"x":198,"y":220},{"x":199,"y":220},{"x":200,"y":220},{"x":201,"y":220},{"x":202,"y":220},{"x":203,"y":220},{"x":204,"y":220},{"x":205,"y":220},{"x":206,"y":220},{"x":207,"y":220},{"x":208,"y":220},{"x":209,"y":220},{"x":210,"y":220},{"x":211,"y":220},{"x":212,"y":220},{"x":213,"y":220},{"x":242,"y":220},{"x":243,"y":220},
{"x":145,"y":230},{"x":146,"y":230},{"x":147,"y":230},{"x":148,"y":230},{"x":149,"y":230},{"x":150,"y":230},{"x":151,"y":230},{"x":152,"y":230},{"x":153,"y":230},{"x":196,"y":230},{"x":197,"y":230},{"x":198,"y":230},{"x":199,"y":230},{"x":200,"y":230},{"x":201,"y":230},{"x":202,"y":230},{"x":203,"y":230},
{"x":145,"y":240},{"x":146,"y":240},{"x":147,"y":240},{"x":148,"y":240},{"x":149,"y":240},{"x":150,"y":240},{"x":151,"y":240},{"x":152,"y":240},
{"x":145,"y":250},{"x":146,"y":250},{"x":147,"y":250},{"x":148,"y":250},{"x":149,"y":250},{"x":150,"y":250},{"x":151,"y":250},
{"x":145,"y":260},{"x":146,"y":260},{"x":149,"y":260},{"x":145,"y":270},{"x":145,"y":280},{"x":145,"y":290},{"x":145,"y":300},{"x":242,"y":300},{"x":243,"y":300},{"x":244,"y":300},{"x":245,"y":300},{"x":246,"y":300}],
"bar":[{"lo":-2.64,"hi":-2.4,"v":-2.52},{"lo":-2.4,"hi":-2.16,"v":-2.28},{"lo":-2.16,"hi":-1.92,"v":-2.04},{"lo":-1.92,"hi":-1.68,"v":-1.8},{"lo":-1.68,"hi":-1.44,"v":-1.56},{"lo":-1.44,"hi":-1.2,"v":-1.32},{"lo":-1.2,"hi":-0.96,"v":-1.08},{"lo":-0.96,"hi":-0.72,"v":-0.84},{"lo":-0.72,"hi":-0.48,"v":-0.6},{"lo":-0.48,"hi":-0.24,"v":-0.36},{"lo":-0.24,"hi":0,"v":-0.12},{"lo":0,"hi":0.24,"v":0.12},{"lo":0.24,"hi":0.48,"v":0.36},{"lo":0.48,"hi":0.72,"v":0.6},{"lo":0.72,"hi":0.96,"v":0.84},{"lo":0.96,"hi":1.2,"v":1.08},{"lo":1.2,"hi":1.44,"v":1.32},{"lo":1.44,"hi":1.68,"v":1.56},{"lo":1.68,"hi":1.92,"v":1.8},{"lo":1.92,"hi":2.16,"v":2.04},{"lo":2.16,"hi":2.4,"v":2.28},{"lo":2.4,"hi":2.64,"v":2.52}]},
"vconcat":[{"hconcat":[
{"width":285,"height":238,"title":{"text":"Multi-year La Niña composites","dx":2.5,"offset":-16.5},"resolve":{"axis":{"x":"independent","y":"independent"}},"data":{"name":"lines"},"layer":[
{"mark":{"type":"area","orient":"horizontal","opacity":0.25},"encoding":{"y":{"field":"lat","type":"quantitative","scale":{"domain":[-7.5,12.5],"nice":false,"zero":false},"axis":{"values":[-7.5,-5,-2.5,0,2.5,5,7.5,10,12.5],"labelExpr":"datum.value==0?'0':(abs(datum.value)+'ᵒ'+(datum.value>0?'N':'S'))","title":"Latitude","titlePadding":5,"labelPadding":5,"offset":-15}},"x":{"field":"lo","type":"quantitative","scale":{"domain":[-8,4],"range":[15,285],"nice":false,"zero":false},"axis":{"values":[-8,-6,-4,-2,0,2,4],"labelExpr":"''+datum.value","title":["MAMJJ(2) TAUU anomaly","(120ᵒE-80ᵒW average, N m⁻²)"],"titlePadding":3,"labelPadding":10}},"x2":{"field":"hi"},"fill":{"field":"s","type":"nominal","scale":{"domain":["1900-1999","2000-2099"],"range":["#0A6FB8","#F0141C"]},"legend":null}}},
{"mark":{"type":"rule","strokeDash":[4,3],"color":"#000000","strokeWidth":1},"data":{"values":[{"x":0}]},"encoding":{"x":{"field":"x","type":"quantitative","scale":{"domain":[-8,4],"range":[15,285],"nice":false,"zero":false},"axis":null}}},
{"mark":{"type":"rule","strokeDash":[4,3],"color":"#000000","strokeWidth":1},"data":{"values":[{"y":0,"x":-8,"x2":4}]},"encoding":{"x":{"field":"x","type":"quantitative","scale":{"domain":[-8,4],"range":[15,285],"nice":false,"zero":false},"axis":null},"x2":{"field":"x2"},"y":{"field":"y","type":"quantitative","scale":{"domain":[-7.5,12.5],"nice":false,"zero":false},"axis":null}}},
{"mark":{"type":"line","strokeWidth":2},"encoding":{"y":{"field":"lat","type":"quantitative","scale":{"domain":[-7.5,12.5],"nice":false,"zero":false},"axis":{"orient":"right","labels":false,"title":null,"values":[-7.5,-5,-2.5,0,2.5,5,7.5,10,12.5]}},"x":{"field":"m","type":"quantitative","scale":{"domain":[-8,4],"range":[15,285],"nice":false,"zero":false},"axis":{"orient":"top","labels":false,"title":null,"values":[-8,-6,-4,-2,0,2,4]}},"color":{"field":"s","type":"nominal","scale":{"domain":["1900-1999","2000-2099"],"range":["#0A6FB8","#F0141C"]},"legend":{"orient":"none","legendX":26,"legendY":11,"title":null,"symbolType":"stroke","symbolSize":900,"symbolStrokeWidth":2,"labelOffset":2,"rowPadding":0,"clipHeight":16}},"order":{"field":"lat"}}},
{"mark":{"type":"text","font":"Liberation Sans","fontWeight":"bold","fontSize":17,"align":"left","dx":-63,"dy":-6,"baseline":"alphabetic","color":"#000000"},"data":{"values":[{"x":-8,"y":12.5,"t":"a"}]},"encoding":{"x":{"field":"x","type":"quantitative","scale":{"domain":[-8,4],"range":[15,285],"nice":false,"zero":false},"axis":null},"y":{"field":"y","type":"quantitative","scale":{"domain":[-7.5,12.5],"nice":false,"zero":false},"axis":null},"text":{"field":"t"}}},
{"mark":{"type":"text","fontSize":14,"align":"right","dy":46,"baseline":"alphabetic","color":"#404040"},"data":{"values":[{"x":4,"y":-7.5,"t":"×10⁻³"}]},"encoding":{"x":{"field":"x","type":"quantitative","scale":{"domain":[-8,4],"range":[15,285],"nice":false,"zero":false},"axis":null},"y":{"field":"y","type":"quantitative","scale":{"domain":[-7.5,12.5],"nice":false,"zero":false},"axis":null},"text":{"field":"t"}}}]},
{"width":270,"height":238,"title":{"text":"Multi-year La Niña sampless","dx":-2,"offset":-16.5},"resolve":{"axis":{"x":"independent","y":"independent"}},"layer":[
{"mark":{"type":"rect","opacity":0.28},"data":{"name":"means"},"encoding":{"x":{"field":"lo","type":"quantitative","scale":{"domain":[-10,-2],"nice":false,"zero":false},"axis":{"values":[-10,-9,-8,-7,-6,-5,-4,-3,-2],"labelExpr":"''+datum.value","title":["MAMJJ(2) WSC anomaly","(0-10ᵒN, 120ᵒE-80ᵒW average, N m⁻³)"],"titlePadding":3,"labelPadding":10}},"x2":{"field":"hi"},"fill":{"field":"s","type":"nominal","scale":{"domain":["1900-1999","2000-2099"],"range":["#0A6FB8","#F0141C"]},"legend":null}}},
{"mark":{"type":"bar","size":4.4,"opacity":0.68},"data":{"name":"bars"},"encoding":{"x":{"field":"x","type":"quantitative","scale":{"domain":[-10,-2],"nice":false,"zero":false},"axis":null},"y":{"field":"n","type":"quantitative","stack":null,"scale":{"domain":[0,1400],"nice":false},"axis":{"values":[0,200,400,600,800,1000,1200,1400],"labelExpr":"''+datum.value","title":"Number of occurrences","titlePadding":3,"labelPadding":5}},"color":{"field":"s","type":"nominal","scale":{"domain":["1900-1999","2000-2099"],"range":["#0A6FB8","#F0141C"]},"legend":{"orient":"top-left","offset":9,"padding":0,"title":null,"symbolType":"M-1,-0.4H1V0.4H-1Z","symbolSize":900,"symbolOpacity":0.68,"labelOffset":4,"rowPadding":0,"clipHeight":16}}}},
{"mark":{"type":"rule","strokeWidth":2,"color":"#1070B8"},"data":{"name":"means"},"transform":[{"filter":"datum.s=='1900-1999'"}],"encoding":{"x":{"field":"m","type":"quantitative","scale":{"domain":[-10,-2],"nice":false,"zero":false},"axis":null}}},
{"mark":{"type":"rule","strokeWidth":2,"color":"#E81C1C"},"data":{"name":"means"},"transform":[{"filter":"datum.s=='2000-2099'"}],"encoding":{"x":{"field":"m","type":"quantitative","scale":{"domain":[-10,-2],"nice":false,"zero":false},"axis":null}}},
{"mark":{"type":"text","font":"Liberation Sans","fontWeight":"bold","fontSize":17,"align":"left","dx":-56,"dy":-6,"baseline":"alphabetic","color":"#000000"},"data":{"values":[{"x":-10,"y":1400,"t":"b"}]},"encoding":{"x":{"field":"x","type":"quantitative","scale":{"domain":[-10,-2],"nice":false,"zero":false},"axis":{"orient":"top","labels":false,"title":null,"values":[-10,-9,-8,-7,-6,-5,-4,-3,-2]}},"y":{"field":"y","type":"quantitative","scale":{"domain":[0,1400],"nice":false},"axis":{"orient":"right","labels":false,"title":null,"values":[0,200,400,600,800,1000,1200,1400]}},"text":{"field":"t"}}},
{"mark":{"type":"text","fontSize":14,"align":"right","dy":46,"baseline":"alphabetic","color":"#404040"},"data":{"values":[{"x":-2,"y":0,"t":"×10⁻⁹"}]},"encoding":{"x":{"field":"x","type":"quantitative","scale":{"domain":[-10,-2],"nice":false,"zero":false},"axis":null},"y":{"field":"y","type":"quantitative","scale":{"domain":[0,1400],"nice":false},"axis":null},"text":{"field":"t"}}}]}
],"spacing":93,"bounds":"flush"},
{"hconcat":[
{"width":563,"height":245,"title":{"text":"Temperature tendency change and wind stress curl change","dx":9,"offset":-17.3},"resolve":{"axis":{"x":"independent","y":"independent"}},"layer":[
{"mark":{"type":"rect","clip":true},"data":{"values":[{"x":138,"x2":282,"y":5,"y2":305,"v":-0.12}]},"encoding":{"x":{"field":"x","type":"quantitative","scale":{"domain":[140,280],"nice":false,"zero":false},"axis":{"values":[140,160,180,200,220,240,260,280],"labelExpr":"datum.value<180?datum.value+'ᵒE':(datum.value==180?'180ᵒ':(360-datum.value)+'ᵒW')","title":"Longitude","titlePadding":8,"labelPadding":11}},"x2":{"field":"x2"},"y":{"field":"y","type":"quantitative","scale":{"domain":[10,300],"reverse":true,"nice":false,"zero":false},"axis":{"values":[50,100,150,200,250,300],"title":"Depth (m)","titlePadding":5,"labelPadding":5}},"y2":{"field":"y2"},"fill":{"field":"v","type":"quantitative","scale":{"type":"threshold","domain":[-2.4,-2.16,-1.92,-1.68,-1.44,-1.2,-0.96,-0.72,-0.48,-0.24,0,0.24,0.48,0.72,0.96,1.2,1.44,1.68,1.92,2.16,2.4],"range":["#7B28DC","#3C14E6","#0000F0","#2846E6","#3C64DC","#1E78F0","#0CA0FF","#00BFFF","#55BBEE","#8FCBEA","#B8E0F2","#FFF59A","#FFE13C","#FFC31E","#FFA500","#FF8000","#FF6010","#FF2000","#E80000","#C80000","#DD4444","#FBB4B9"]},"legend":null}}},
{"mark":{"type":"line","clip":true,"interpolate":"cardinal-closed","tension":0.4,"stroke":null},"data":{"name":"polys"},"transform":[{"window":[{"op":"row_number","as":"i"}]},{"lookup":"p","from":{"data":{"name":"levels"},"key":"p","fields":["v"]}}],"encoding":{"x":{"field":"x","type":"quantitative","scale":{"domain":[140,280],"nice":false,"zero":false},"axis":null},"y":{"field":"y","type":"quantitative","scale":{"domain":[10,300],"reverse":true,"nice":false,"zero":false},"axis":null},"detail":{"field":"p"},"order":{"field":"i"},"fill":{"field":"v","type":"quantitative","scale":{"type":"threshold","domain":[-2.4,-2.16,-1.92,-1.68,-1.44,-1.2,-0.96,-0.72,-0.48,-0.24,0,0.24,0.48,0.72,0.96,1.2,1.44,1.68,1.92,2.16,2.4],"range":["#7B28DC","#3C14E6","#0000F0","#2846E6","#3C64DC","#1E78F0","#0CA0FF","#00BFFF","#55BBEE","#8FCBEA","#B8E0F2","#FFF59A","#FFE13C","#FFC31E","#FFA500","#FF8000","#FF6010","#FF2000","#E80000","#C80000","#DD4444","#FBB4B9"]},"legend":null}}},
{"mark":{"type":"square","size":2.5,"color":"#101020","opacity":1},"data":{"name":"dots"},"encoding":{"x":{"field":"x","type":"quantitative","scale":{"domain":[140,280],"nice":false,"zero":false},"axis":{"orient":"top","labels":false,"title":null,"values":[140,160,180,200,220,240,260,280]}},"y":{"field":"y","type":"quantitative","scale":{"domain":[10,300],"reverse":true,"nice":false,"zero":false},"axis":{"orient":"right","labels":false,"title":null,"values":[50,100,150,200,250,300]}}}},
{"mark":{"type":"text","font":"Liberation Sans","fontWeight":"bold","fontSize":17,"align":"left","dx":-48,"dy":-10,"baseline":"alphabetic","color":"#000000"},"data":{"values":[{"x":140,"y":10,"t":"c"}]},"encoding":{"x":{"field":"x","type":"quantitative","scale":{"domain":[140,280],"nice":false,"zero":false},"axis":null},"y":{"field":"y","type":"quantitative","scale":{"domain":[10,300],"reverse":true,"nice":false,"zero":false},"axis":null},"text":{"field":"t"}}}]},
{"width":10,"height":245,"view":{"stroke":"#404040"},"data":{"name":"bar"},"resolve":{"axis":{"y":"independent"}},"layer":[
{"mark":{"type":"rect"},"encoding":{"y":{"field":"lo","type":"quantitative","scale":{"domain":[-2.64,2.64],"nice":false,"zero":false},"axis":{"orient":"right","values":[-2.4,-1.92,-1.44,-0.96,-0.48,0,0.48,0.96,1.44,1.92,2.4],"labelExpr":"''+datum.value","labelOverlap":false,"labelBound":false,"ticks":false,"domain":false,"labelPadding":4,"title":"Regression coefficient (ᵒC month⁻¹ per N m⁻³)","titleAngle":270,"titleFontSize":12.5,"titlePadding":21}},"y2":{"field":"hi"},"fill":{"field":"v","type":"quantitative","scale":{"type":"threshold","domain":[-2.4,-2.16,-1.92,-1.68,-1.44,-1.2,-0.96,-0.72,-0.48,-0.24,0,0.24,0.48,0.72,0.96,1.2,1.44,1.68,1.92,2.16,2.4],"range":["#7B28DC","#3C14E6","#0000F0","#2846E6","#3C64DC","#1E78F0","#0CA0FF","#00BFFF","#55BBEE","#8FCBEA","#B8E0F2","#FFF59A","#FFE13C","#FFC31E","#FFA500","#FF8000","#FF6010","#FF2000","#E80000","#C80000","#DD4444","#FBB4B9"]},"legend":null}}},
{"mark":{"type":"text","fontSize":14,"align":"left","dx":7,"dy":-6,"baseline":"alphabetic","color":"#404040"},"data":{"values":[{"y":2.64,"t":"×10⁷"}]},"encoding":{"y":{"field":"y","type":"quantitative","scale":{"domain":[-2.64,2.64],"nice":false,"zero":false},"axis":null},"text":{"field":"t"}}}]}
],"spacing":19,"bounds":"flush"}]}
